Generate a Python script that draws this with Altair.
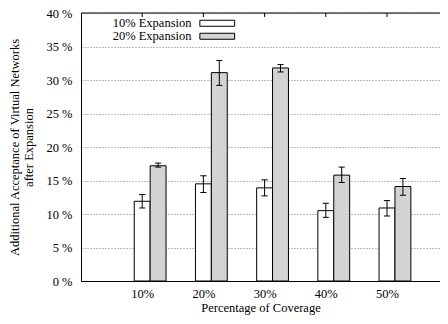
import altair as alt
import pandas as pd

categories = ["10%", "20%", "30%", "40%", "50%"]
series_names = ["10% Expansion", "20% Expansion"]

exp10 = [11.9, 14.5, 13.9, 10.5, 10.9]
exp10_lo = [10.9, 13.2, 12.7, 9.5, 9.7]
exp10_hi = [12.9, 15.7, 15.1, 11.6, 12.0]

exp20 = [17.2, 31.1, 31.8, 15.8, 14.1]
exp20_lo = [17.0, 29.2, 31.2, 14.7, 12.8]
exp20_hi = [17.6, 32.9, 32.3, 17.0, 15.3]

y_ticks = [0, 5, 10, 15, 20, 25, 30, 35, 40]

rows = []
for i, c in enumerate(categories):
    rows.append(dict(pos=i + 1, cat=c, series=series_names[0], k=0,
                     value=exp10[i], lo=exp10_lo[i], hi=exp10_hi[i]))
    rows.append(dict(pos=i + 1, cat=c, series=series_names[1], k=1,
                     value=exp20[i], lo=exp20_lo[i], hi=exp20_hi[i]))
df = pd.DataFrame(rows)
pos_df = pd.DataFrame({"pos": list(range(1, len(categories) + 1))})
one_df = pd.DataFrame({"a": [0]})

FONT = "Times New Roman, Liberation Serif, serif"
FS = 12.5
W, H = 359, 268
XMAX = round(W / 61.2, 3)
xscale = alt.Scale(domain=[0, XMAX], nice=False, zero=False)
yscale = alt.Scale(domain=[0, 40], nice=False)
label_expr = "[" + ",".join(f"'{c}'" for c in categories) + "][datum.value - 1]"

xaxis = alt.Axis(values=[1, 2, 3, 4, 5], labelExpr=label_expr, grid=False,
                 ticks=False, title="Percentage of Coverage",
                 labelPadding=6, titlePadding=2, labelOverlap=False)
yaxis = alt.Axis(values=y_ticks, labelExpr="datum.value + ' %'", grid=True,
                 ticks=False, labelPadding=9, titlePadding=10, labelOverlap=False,
                 title=["Additional Acceptance of Virtual Networks", "after Expansion"])

BW = 0.26
base = alt.Chart(df).transform_calculate(
    xc=f"datum.pos + datum.k * {BW}"
).transform_calculate(
    x0=f"datum.xc - {BW / 2}", x1=f"datum.xc + {BW / 2}",
    c0="datum.xc - 0.05", c1="datum.xc + 0.05"
)

bars = base.mark_bar(stroke="black", strokeWidth=1).encode(
    x=alt.X("x0:Q", scale=xscale, axis=xaxis),
    x2="x1:Q",
    y=alt.Y("value:Q", scale=yscale, axis=yaxis),
    y2=alt.datum(0),
    color=alt.Color("series:N",
                    scale=alt.Scale(domain=series_names, range=["white", "#d3d3d3"]),
                    legend=alt.Legend(title=None, orient="none", legendX=130, legendY=4,
                                      labelAlign="right", labelOffset={"expr": "-32"},
                                      symbolType="M-5.8,-1H5.8V1H-5.8Z", symbolSize=36,
                                      symbolStrokeColor="black", symbolStrokeWidth=1,
                                      labelFont=FONT, labelFontSize=FS, rowPadding=0,
                                      labelColor="black", padding=0)),
)

err = base.mark_rule(color="black", strokeWidth=1).encode(
    x=alt.X("xc:Q", scale=xscale, axis=xaxis),
    y=alt.Y("lo:Q", scale=yscale, axis=yaxis), y2="hi:Q")
cap_lo = base.mark_rule(color="black", strokeWidth=1).encode(
    x=alt.X("c0:Q", scale=xscale, axis=xaxis), x2="c1:Q",
    y=alt.Y("lo:Q", scale=yscale, axis=yaxis))
cap_hi = base.mark_rule(color="black", strokeWidth=1).encode(
    x=alt.X("c0:Q", scale=xscale, axis=xaxis), x2="c1:Q",
    y=alt.Y("hi:Q", scale=yscale, axis=yaxis))

top_ticks = alt.Chart(pos_df).mark_rule(color="black", strokeWidth=1).encode(
    x=alt.X("pos:Q", scale=xscale, axis=xaxis),
    y=alt.YDatum(40, scale=yscale, axis=yaxis), y2=alt.datum(39.4))
top_border = alt.Chart(one_df).mark_rule(color="black", strokeWidth=1).encode(
    x=alt.XDatum(0, scale=xscale, axis=xaxis), x2=alt.datum(XMAX),
    y=alt.YDatum(40, scale=yscale, axis=yaxis))

chart = alt.layer(bars, err, cap_lo, cap_hi, top_ticks, top_border).properties(
    width=W, height=H,
    autosize=alt.AutoSizeParams(type="none"),
    padding={"left": 73, "top": 5, "right": 0, "bottom": 35},
).configure_view(
    strokeWidth=0
).configure_axis(
    labelFont=FONT, labelFontSize=FS, labelColor="black",
    titleFont=FONT, titleFontSize=FS, titleFontWeight="normal", titleColor="black",
    domainColor="black", domainWidth=1,
    gridColor="#777", gridDash=[1, 2], gridWidth=1,
)

chart.save("out.html", embed_options={"renderer": "svg", "actions": False})
